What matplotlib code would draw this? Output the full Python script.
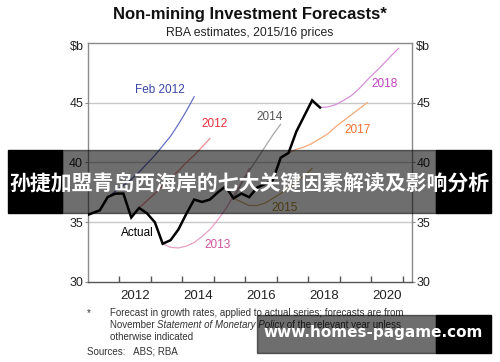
import numpy as np
import matplotlib
matplotlib.use("Agg")
import matplotlib.pyplot as plt
from matplotlib.patches import Rectangle

plt.rcParams['font.family'] = ['Liberation Sans', 'DejaVu Sans']

# ---------------- data ----------------
# quarterly observations; x position = FIRST_QTR + 0.25 * index
FIRST_QTR = 2010.875
actual = [35.5, 35.75, 36.0, 37.1, 37.4, 37.4, 35.4, 36.2, 35.75, 35.0,
          33.2, 33.5, 34.4, 35.7, 36.9, 36.7, 36.9, 37.5, 38.0, 37.0,
          37.4, 37.1, 37.9, 38.2, 38.5, 40.4, 40.8, 42.6, 43.9, 45.2, 44.6]

# forecasts: (start quarter index, values)
fc_feb2012 = (3, [37.1, 37.6, 38.1, 38.6, 39.2, 39.9, 40.6, 41.4, 42.2, 43.2, 44.3, 45.5])
fc_2012 = (7, [36.2, 36.8, 37.4, 38.1, 38.7, 39.3, 40.0, 40.6, 41.3, 42.0])
fc_2013 = (10, [33.2, 32.9, 32.85, 33.0, 33.3, 33.8, 34.4, 35.2, 36.1, 37.2, 38.3, 39.5])
fc_2014 = (19, [37.0, 38.2, 39.3, 40.3, 41.3, 42.3, 43.2])
fc_2015 = (19, [37.0, 36.7, 36.4, 36.4, 36.6, 37.0, 37.4, 37.9, 38.4, 38.9, 39.5])
fc_2017 = (26, [40.8, 41.1, 41.3, 41.6, 42.0, 42.4, 43.0, 43.5, 44.0, 44.5, 45.0])
fc_2018 = (30, [44.6, 44.65, 44.85, 45.2, 45.6, 46.2, 46.9, 47.55, 48.2, 48.9, 49.55])

year_labels = ['2012', '2014', '2016', '2018', '2020']
y_ticks = [30, 35, 40, 45]

# ---------------- figure ----------------
W, H = 500, 362
fig = plt.figure(figsize=(W / 100, H / 100), dpi=100)
fig.patch.set_facecolor('white')


def fx(px):
    return px / W


def fy(py):
    return 1 - py / H


ax = fig.add_axes([fx(88), fy(282), fx(412) - fx(88), fy(43) - fy(282)])
ax.set_xlim(2011.0, 2021.3)
ax.set_ylim(30, 50)


def xs(start, n):
    return FIRST_QTR + 0.25 * (start + np.arange(n))


for yv in [35, 40, 45]:
    ax.axhline(yv, color='#c8c8c8', lw=1.0, zorder=1)

series = [
    (fc_feb2012, '#6470c4'),
    (fc_2012, '#f08a90'),
    (fc_2013, '#e6a0c4'),
    (fc_2014, '#a8a8a8'),
    (fc_2015, '#d0b070'),
    (fc_2017, '#f5a878'),
    (fc_2018, '#d890d8'),
]
for (start, vals), col in series:
    ax.plot(xs(start, len(vals)), vals, color=col, lw=0.9, zorder=2)

ax.plot(xs(0, len(actual)), actual, color='black', lw=1.8, zorder=3,
        solid_joinstyle='miter')

# series labels
lab_kw = dict(fontsize=8.5, ha='center', va='center', zorder=4)


def px2data(px, py):
    x = 2011.0 + (px - 87.5) / 31.5
    y = 30 + (282 - py) / 11.95
    return x, y


for txt, (px, py), col in [
    ('Feb 2012', (159, 90), '#3a46a8'),
    ('2012', (214, 124), '#e8303f'),
    ('2014', (269, 117), '#555555'),
    ('2013', (217, 245), '#d0549a'),
    ('2015', (284, 208), '#b08830'),
    ('2017', (358, 130), '#f07030'),
    ('2018', (384, 84), '#c040c0'),
    ('Actual', (137, 233), '#000000'),
]:
    ax.text(*px2data(px, py), txt, color=col, **lab_kw)

# axes styling
for s in ['top', 'left', 'right']:
    ax.spines[s].set_color('#8a8a8a')
    ax.spines[s].set_linewidth(1.0)
ax.spines['bottom'].set_color('#555555')
ax.spines['bottom'].set_linewidth(1.0)

ax.set_xticks(np.arange(2012, 2022), minor=True)
ax.set_xticks([int(y) + 0.5 for y in year_labels])
ax.set_xticklabels(year_labels)
ax.tick_params(axis='x', which='major', length=0, labelsize=9.5, pad=6, colors='#222222')
ax.tick_params(axis='x', which='minor', direction='in', length=4, width=1, color='#555555')

ax.set_yticks(y_ticks)
ax.tick_params(axis='y', which='major', direction='out', length=2, width=0.8,
               color='#8a8a8a', labelsize=9, labelcolor='#222222',
               left=True, right=True, labelleft=True, labelright=True, pad=1.5)

fig.text(fx(84), fy(47), '$b', ha='right', va='center', fontsize=9, color='#222222')
fig.text(fx(416), fy(47), '$b', ha='left', va='center', fontsize=9, color='#222222')

# titles
fig.text(0.5, fy(15), 'Non-mining Investment Forecasts*', ha='center', va='center',
         fontsize=12, fontweight='bold', color='#111111')
fig.text(0.5, fy(33), 'RBA estimates, 2015/16 prices', ha='center', va='center',
         fontsize=8.8, color='#222222')

# footnotes
fn_kw = dict(fontsize=7, color='#333333', va='center', ha='left')
fig.text(fx(87), fy(313), '*', **fn_kw)
fig.text(fx(110), fy(313), 'Forecast in growth rates, applied to actual series; forecasts are from', **fn_kw)
renderer = fig.canvas.get_renderer()
x_cur = fx(110)
for part, style in [('November ', 'normal'), ('Statement of Monetary Policy', 'italic'),
                    (' of the relevant year unless', 'normal')]:
    t = fig.text(x_cur, fy(325), part, style=style, **fn_kw)
    bb = t.get_window_extent(renderer=renderer)
    x_cur += bb.width / W
fig.text(fx(110), fy(337), 'otherwise indicated', **fn_kw)
fig.text(fx(87), fy(351), 'Sources:   ABS; RBA', **fn_kw)

# overlay banner (watermark)
fig.patches.append(Rectangle((fx(8), fy(213)), fx(62) - fx(8), fy(150) - fy(213),
                             transform=fig.transFigure, color='black', zorder=10))
fig.patches.append(Rectangle((fx(436), fy(213)), fx(491) - fx(436), fy(150) - fy(213),
                             transform=fig.transFigure, color='black', zorder=10))
fig.patches.append(Rectangle((fx(62), fy(213)), fx(436) - fx(62), fy(150) - fy(213),
                             transform=fig.transFigure, color='black', alpha=0.57, zorder=10))
fig.text(fx(249), fy(184), '孙捷加盟青岛西海岸的七大关键因素解读及影响分析', ha='center', va='center',
         fontsize=15, fontweight='bold', color='white', zorder=11,
         family=['Noto Sans CJK SC', 'DejaVu Sans'])

fig.patches.append(Rectangle((fx(257), fy(353)), fx(436) - fx(257), fy(315) - fy(353),
                             transform=fig.transFigure, color='black', alpha=0.57, zorder=10))
fig.patches.append(Rectangle((fx(436), fy(353)), fx(491) - fx(436), fy(315) - fy(353),
                             transform=fig.transFigure, color='black', zorder=10))
fig.text(fx(373), fy(333), 'www.homes-pagame.com', ha='center', va='center',
         fontsize=11, fontweight='bold', color='white', zorder=11,
         family=['DejaVu Sans'])

fig.savefig('out.png', dpi=100, facecolor='white')
